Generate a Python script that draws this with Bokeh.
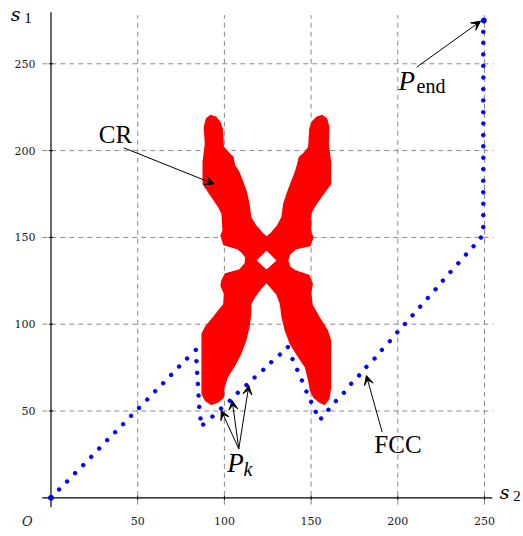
from bokeh.plotting import figure
from bokeh.models import Arrow, VeeHead
from bokeh.core.properties import value
from bokeh.embed import file_html
from bokeh.resources import INLINE

# ---------------- data ----------------
x_ticks = [50, 100, 150, 200, 250]
y_ticks = [50, 100, 150, 200, 250]
x_tick_labels = ["50", "100", "150", "200", "250"]
y_tick_labels = ["50", "100", "150", "200", "250"]

# FCC (free configuration curve) dotted path, s2 (x) and s1 (y)
fcc_s2 = [0.0, 4.7, 9.3, 13.9, 18.6, 23.2, 27.8, 32.4, 37.0, 41.6, 46.2, 50.8, 55.5,
          60.1, 64.7, 69.3, 73.9, 78.5, 83.5,
          83.9, 84.3, 84.7, 85.1, 85.5, 86.2, 87.8,
          93.1, 98.1, 103.1, 107.7, 112.7, 117.4, 122.4, 127.0, 132.0, 136.6,
          139.3, 142.0, 144.7, 147.3, 150.0, 152.7, 155.8,
          160.0, 164.3, 168.9, 173.1, 177.7, 181.9, 186.6, 190.8, 195.4,
          199.7, 204.1, 208.5, 212.9, 217.3, 221.8, 226.0, 230.4, 234.9, 239.3,
          243.7, 247.9,
          249.3, 249.3, 249.3, 249.3, 249.3, 249.3, 249.3, 249.3, 249.3, 249.3,
          249.3, 249.3, 249.3, 249.3, 249.3, 249.3, 249.3, 249.3, 249.6]
fcc_s1 = [0.0, 4.8, 9.4, 14.2, 18.8, 23.6, 28.4, 33.2, 37.8, 42.4, 47.2, 51.8, 56.6,
          61.4, 66.0, 70.8, 75.6, 80.2, 85.2,
          78.7, 72.0, 65.6, 58.9, 52.4, 45.7, 42.2,
          46.8, 51.4, 55.9, 60.5, 64.9, 69.3, 73.7, 78.1, 82.5, 86.8,
          79.9, 73.7, 67.6, 61.2, 55.3, 49.5, 45.7,
          50.7, 55.7, 60.5, 65.7, 70.5, 75.4, 80.2, 85.2, 90.2,
          95.3, 100.1, 105.1, 110.1, 115.1, 120.1, 125.1, 130.1, 135.1, 140.1,
          144.9, 149.9,
          155.9, 162.8, 169.4, 176.0, 182.6, 189.3, 195.9, 202.5, 208.9, 215.6,
          222.1, 228.9, 235.4, 242.1, 248.8, 255.4, 262.1, 268.4, 274.9]

# CR (collision region): outer outline and inner hole (s2, s1)
cr_outer_s2 = [88.5, 89.7, 92.0, 94.9, 97.4, 98.7, 99.3, 102.6, 104.9, 105.8, 108.3, 110.2,
               112.6, 114.1, 115.1, 117.9, 121.8, 124.3,
               127.0, 130.8, 133.3, 134.3, 136.2, 138.7, 141.0, 142.4, 143.3, 146.2, 148.7,
               149.3, 150.6, 153.5, 156.4, 158.9, 160.2,
               159.8, 161.2, 161.2, 157.7, 154.5, 151.6, 149.7, 149.7, 151.0, 149.3, 141.0,
               137.7, 136.4,
               137.7, 141.0, 148.7, 150.6, 149.7, 150.6, 154.5, 159.3, 161.2, 161.2, 160.2,
               157.7, 155.0, 151.6, 149.7, 148.7, 146.8, 142.9, 138.1, 135.2, 133.3, 132.4,
               130.4, 127.6, 124.3,
               120.8, 117.9, 115.1, 115.1, 114.1, 112.2, 109.3, 106.4, 101.6, 99.7, 99.3,
               96.2, 92.4, 89.1, 87.2, 87.2, 89.1, 93.9, 99.7, 100.1, 98.1, 98.7, 100.6,
               108.9, 112.0, 112.2,
               112.4, 110.2, 107.8, 99.7, 98.1, 99.3, 98.7, 96.8, 93.9, 91.0, 87.8, 87.8, 89.1]
cr_outer_s1 = [213.5, 218.3, 220.2, 219.3, 216.4, 212.5, 202.0, 198.5, 196.2, 191.4, 187.6, 182.8,
               176.1, 169.3, 161.7, 156.9, 152.4, 150.1,
               152.4, 156.9, 161.7, 169.3, 175.1, 181.8, 187.6, 192.4, 196.2, 198.7, 202.0,
               212.5, 216.4, 219.3, 220.2, 218.3, 213.5,
               203.9, 193.3, 180.9, 176.1, 171.6, 167.4, 163.6, 153.0, 150.1, 145.3, 143.4,
               140.5, 136.7,
               132.9, 130.6, 128.1, 123.3, 117.5, 110.8, 104.1, 96.4, 90.6, 63.7, 57.0,
               53.8, 55.1, 58.0, 61.8, 67.6, 75.3, 81.0, 88.7, 96.4, 104.1, 111.7,
               117.1, 120.4, 124.2,
               120.4, 116.5, 111.7, 106.0, 98.3, 90.6, 82.9, 77.2, 69.5, 63.7, 58.0,
               55.1, 53.8, 56.1, 59.9, 94.5, 98.3, 104.1, 111.4, 117.5, 122.3, 125.2, 129.0,
               131.3, 134.8, 136.7,
               138.6, 141.5, 143.4, 145.9, 151.1, 154.0, 163.6, 167.4, 171.8, 176.1, 180.9, 193.3, 203.9]
cr_hole_s2 = [124.3, 130.6, 124.3, 118.0]
cr_hole_s1 = [143.0, 136.7, 130.9, 136.7]

# ---------------- figure ----------------
p = figure(width=523, height=536, x_range=(-29.12, 272.49), y_range=(-22.29, 286.46),
           output_backend="svg", toolbar_location=None, min_border=0,
           x_axis_location=None, y_axis_location=None)
p.grid.visible = False
p.outline_line_color = None
p.background_fill_color = "white"
p.border_fill_color = "white"

# dashed grid
p.segment(x0=x_ticks, y0=[-4] * len(x_ticks), x1=x_ticks, y1=[278] * len(x_ticks),
          line_color="#8a8a8a", line_width=1, line_dash="5 4")
p.segment(x0=[-5] * len(y_ticks), y0=y_ticks, x1=[255] * len(y_ticks), y1=y_ticks,
          line_color="#8a8a8a", line_width=1, line_dash="5 4")

# axes lines
p.segment(x0=[-5, 0], y0=[0, -5.5], x1=[254.5, 0], y1=[0, 279.7],
          line_color="black", line_width=1.2)
# tick marks
p.segment(x0=x_ticks, y0=[-1.2] * 5, x1=x_ticks, y1=[1.2] * 5, line_color="black", line_width=1)
p.segment(x0=[-1.2] * 5, y0=y_ticks, x1=[1.2] * 5, y1=y_ticks, line_color="black", line_width=1)

# tick labels
p.text(x=x_ticks, y=[-13.6] * 5, text=x_tick_labels, text_align="center", text_baseline="middle",
       text_font=value("DejaVu Serif"), text_font_size="11px", text_color="#1a1a1a")
p.text(x=[-8.9] * 5, y=y_ticks, text=y_tick_labels, text_align="right", text_baseline="middle",
       text_font=value("DejaVu Serif"), text_font_size="11px", text_color="#1a1a1a")
p.text(x=[-13.6], y=[-13.6], text=["O"], text_align="center", text_baseline="middle",
       text_font=value("DejaVu Serif"), text_font_style="italic", text_font_size="13px",
       text_color="#1a1a1a")

# collision region
p.multi_polygons(xs=[[[cr_outer_s2, cr_hole_s2]]], ys=[[[cr_outer_s1, cr_hole_s1]]],
                 fill_color="#ff0000", line_color="#ff0000", line_width=1.5)

# FCC dotted path
p.scatter(fcc_s2[1:-1], fcc_s1[1:-1], size=3.6, marker="circle", color="#0000ff")
p.scatter([fcc_s2[0], fcc_s2[-1]], [fcc_s1[0], fcc_s1[-1]], size=5, marker="circle", color="#0000ff")

# axis names
p.text(x=[-23.2], y=[278.6], text=["s"], text_font=value("DejaVu Serif"), text_font_style="italic",
       text_font_size="19px", text_baseline="alphabetic", text_align="left")
p.text(x=[-15.4], y=[276.3], text=["1"], text_font=value("Liberation Serif"),
       text_font_size="15px", text_baseline="alphabetic", text_align="left")
p.text(x=[258.8], y=[3.5], text=["s"], text_font=value("DejaVu Serif"), text_font_style="italic",
       text_font_size="19px", text_baseline="alphabetic", text_align="left")
p.text(x=[266.6], y=[0.9], text=["2"], text_font=value("Liberation Serif"),
       text_font_size="15px", text_baseline="alphabetic", text_align="left")

# annotation labels
p.text(x=[37.2], y=[209.5], text=["CR"], text_font=value("Liberation Serif"), text_font_size="25px",
       text_align="center", text_baseline="alphabetic")
p.text(x=[200.1], y=[30.5], text=["FCC"], text_font=value("Liberation Serif"), text_font_size="25px",
       text_align="center", text_baseline="alphabetic")
p.text(x=[200.4], y=[240.2], text=["P"], text_font=value("Liberation Serif"), text_font_style="italic",
       text_font_size="27px", text_align="left", text_baseline="alphabetic")
p.text(x=[210.8], y=[237.0], text=["end"], text_font=value("Liberation Serif"),
       text_font_size="20px", text_align="left", text_baseline="alphabetic")
p.text(x=[101.6], y=[20.3], text=["P"], text_font=value("Liberation Serif"), text_font_style="italic",
       text_font_size="27px", text_align="left", text_baseline="alphabetic")
p.text(x=[111.0], y=[16.4], text=["k"], text_font=value("Liberation Serif"), text_font_style="italic",
       text_font_size="20px", text_align="left", text_baseline="alphabetic")

# arrows
def arrow(x0, y0, x1, y1):
    p.add_layout(Arrow(end=VeeHead(size=9, fill_color="black", line_color="black", line_width=1),
                       x_start=x0, y_start=y0, x_end=x1, y_end=y1,
                       line_color="black", line_width=1))

arrow(42.0, 201.6, 93.9, 180.8)       # CR
arrow(210.8, 248.0, 247.7, 274.5)     # P_end
arrow(108.3, 28.2, 98.2, 50.3)        # P_k
arrow(108.3, 28.2, 104.5, 56.0)
arrow(108.3, 28.2, 114.1, 64.7)
arrow(191.0, 37.8, 181.9, 70.4)       # FCC

open("out.html", "w").write(file_html(p, INLINE))
